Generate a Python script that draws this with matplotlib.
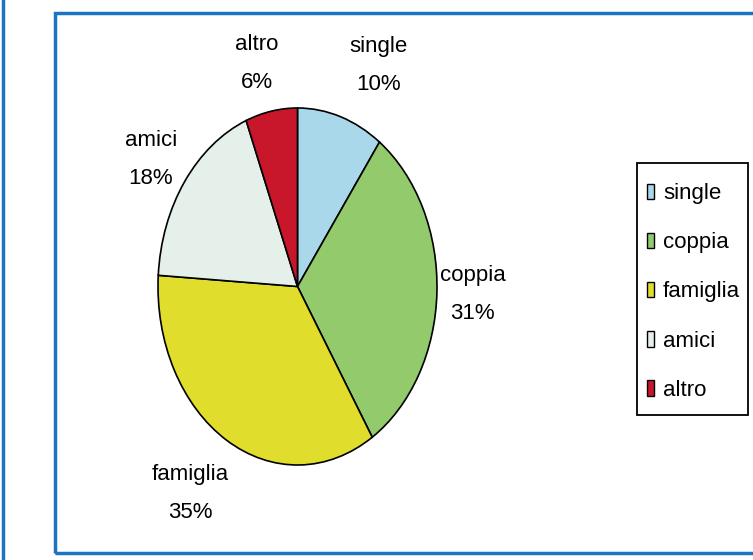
import matplotlib
matplotlib.use("Agg")
import matplotlib.pyplot as plt
from matplotlib.patches import Rectangle
from matplotlib.lines import Line2D

plt.rcParams['font.family'] = ['Liberation Sans', 'DejaVu Sans']

categories = ['single', 'coppia', 'famiglia', 'amici', 'altro']
shares = [10, 31, 35, 18, 6]
colors = ['#A9D8EA', '#92CA6C', '#E1DD2C', '#E6F0EA', '#C8172B']

# small nudges (pixels, right / down) of the data labels from the radial spot
label_nudge = [(25, 0), (-6, 1), (-15, 7), (0, 9), (-7, 5)]

W, H = 753, 560
fig = plt.figure(figsize=(W / 100, H / 100), dpi=100)

def fx(px):
    return px / W

def fy(py):
    return (H - py) / H

# outer blue frame of the chart area and the stray line at the far left
fig.add_artist(Rectangle((fx(55), fy(553)), fx(W + 5 - 55), (553 - 13) / H,
                         transform=fig.transFigure, fill=False,
                         edgecolor='#1C74BF', linewidth=2.5))
fig.add_artist(Line2D([fx(3), fx(3)], [0, 1], transform=fig.transFigure,
                      color='#1C74BF', linewidth=2.5))

# axes placed exactly on the (elliptical) pie
left, right, top, bottom = 158, 437, 108, 465
ax = fig.add_axes([fx(left), fy(bottom), fx(right - left), (bottom - top) / H])
labels = [f'{c}\n{v}%' for c, v in zip(categories, shares)]
wedges, texts = ax.pie(shares, colors=colors, startangle=90, counterclock=False,
                       labels=labels, labeldistance=1.3,
                       wedgeprops=dict(edgecolor='black', linewidth=1.2),
                       textprops=dict(fontsize=16, linespacing=2.05))
rx = (right - left) / 2
ry = (bottom - top) / 2
for t, (dx, dy) in zip(texts, label_nudge):
    x, y = t.get_position()
    t.set_position((x + dx / rx, y - dy / ry))
    t.set_ha('center')
    t.set_va('center')
ax.set_aspect('auto')
ax.set_xlim(-1, 1)
ax.set_ylim(-1, 1)

# legend box drawn separately, entries placed inside it
fig.add_artist(Rectangle((fx(637), fy(415)), fx(748 - 637), (415 - 163) / H,
                         transform=fig.transFigure, fill=False,
                         edgecolor='black', linewidth=1.3))
leg = fig.legend(wedges, categories, loc='upper left',
                 bbox_to_anchor=(fx(647), fy(183)),
                 fontsize=16, frameon=False,
                 handlelength=0.32, handleheight=0.68, handletextpad=0.4,
                 labelspacing=1.27, borderpad=0, borderaxespad=0)
for h in leg.legend_handles:
    h.set_linewidth(1)

fig.savefig('out.png', dpi=100)
